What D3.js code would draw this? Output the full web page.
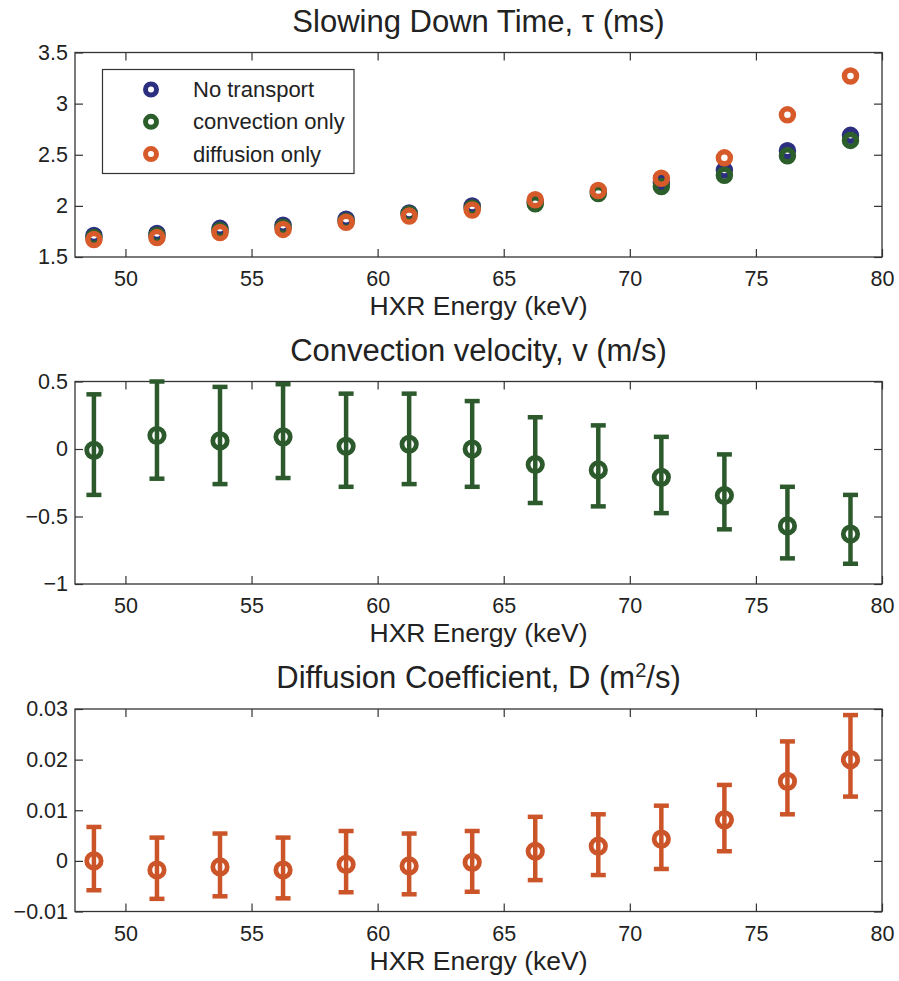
<!DOCTYPE html>
<html>
<head>
<meta charset="utf-8">
<script src="https://d3js.org/d3.v7.min.js"></script>
<style>
  body { margin: 0; background: #fff; }
  svg { display: block; font-family: "Liberation Sans", Arial, sans-serif; }
  text { fill: #222; }
</style>
</head>
<body>
<svg></svg>
<script>
// HXR energy bins (keV)
const energy = [48.75, 51.25, 53.75, 56.25, 58.75, 61.25, 63.75, 66.25, 68.75, 71.25, 73.75, 76.25, 78.75];

// slowing down time (ms)
const tauNone = [1.71, 1.73, 1.78, 1.81, 1.87, 1.93, 2.00, 2.04, 2.14, 2.23, 2.35, 2.54, 2.69];
const tauConv = [1.69, 1.71, 1.76, 1.79, 1.85, 1.92, 1.98, 2.02, 2.12, 2.19, 2.30, 2.49, 2.64];
const tauDiff = [1.67, 1.69, 1.74, 1.77, 1.84, 1.90, 1.96, 2.06, 2.15, 2.27, 2.47, 2.89, 3.27];
const seriesNames = ['No transport', 'convection only', 'diffusion only'];

// convection velocity (m/s) and error bar ends
const velocity = [-0.01, 0.10, 0.06, 0.09, 0.02, 0.035, 0.0, -0.115, -0.155, -0.21, -0.345, -0.57, -0.63];
const velLow = [-0.34, -0.22, -0.26, -0.215, -0.28, -0.26, -0.28, -0.40, -0.425, -0.475, -0.595, -0.81, -0.85];
const velHigh = [0.405, 0.50, 0.46, 0.48, 0.41, 0.41, 0.355, 0.235, 0.175, 0.09, -0.04, -0.28, -0.34];

// diffusion coefficient (m^2/s) and error bar ends
const diffCoef = [0.0000, -0.0018, -0.0012, -0.0018, -0.0007, -0.0010, -0.0003, 0.0019, 0.0029, 0.0043, 0.0081, 0.0157, 0.0200];
const diffLow = [-0.0058, -0.0075, -0.0070, -0.0074, -0.0062, -0.0066, -0.0061, -0.0038, -0.0028, -0.0016, 0.0019, 0.0092, 0.0127];
const diffHigh = [0.0067, 0.0046, 0.0054, 0.0046, 0.0059, 0.0054, 0.0059, 0.0087, 0.0092, 0.0109, 0.0150, 0.0236, 0.0288];

// tick values / labels
const xTicks = [50, 55, 60, 65, 70, 75, 80];
const tauTicks = [1.5, 2, 2.5, 3, 3.5];
const tauLabels = ['1.5', '2', '2.5', '3', '3.5'];
const velTicks = [-1, -0.5, 0, 0.5];
const velLabels = ['\u22121', '\u22120.5', '0', '0.5'];
const diffTicks = [-0.01, 0, 0.01, 0.02, 0.03];
const diffLabels = ['\u22120.01', '0', '0.01', '0.02', '0.03'];

const width = 899;
const height = 981;
const colors = ['#2c2f80', '#2b5e2b', '#d75a2b'];
const greenBar = '#2d5a2c';
const orangeBar = '#cc5429';

const svg = d3.select('svg')
  .attr('width', width)
  .attr('height', height);

svg.append('rect').attr('width', width).attr('height', height).attr('fill', '#fff');

const left = 75;
const right = 882;
const x = d3.scaleLinear().domain([48, 80]).range([left, right]);

function drawPanel(top, bottom, yDomain, ticks, labels, title) {
  const y = d3.scaleLinear().domain(yDomain).range([bottom, top]);
  const g = svg.append('g');
  const h = bottom - top;

  g.append('g')
    .attr('transform', `translate(0,${bottom})`)
    .call(d3.axisBottom(x).tickValues(xTicks).tickSize(-8).tickSizeOuter(0))
    .call(a => {
      a.select('.domain').remove();
      a.selectAll('text').attr('y', 29).attr('dy', null).style('font-size', '21.5px');
    });
  g.append('g')
    .attr('transform', `translate(0,${top})`)
    .call(d3.axisTop(x).tickValues(xTicks).tickSize(-8).tickSizeOuter(0).tickFormat(''))
    .call(a => a.select('.domain').remove());
  g.append('g')
    .attr('transform', `translate(${left},0)`)
    .call(d3.axisLeft(y).tickValues(ticks).tickSize(-8).tickPadding(7).tickSizeOuter(0)
      .tickFormat((d, i) => labels[i]))
    .call(a => {
      a.select('.domain').remove();
      a.selectAll('text').style('font-size', '21.5px');
    });
  g.append('g')
    .attr('transform', `translate(${right},0)`)
    .call(d3.axisRight(y).tickValues(ticks).tickSize(-8).tickSizeOuter(0).tickFormat(''))
    .call(a => a.select('.domain').remove());
  g.selectAll('.tick line').attr('stroke', '#333').attr('stroke-width', 1.2);

  g.append('rect')
    .attr('x', left).attr('y', top)
    .attr('width', right - left).attr('height', h)
    .attr('fill', 'none').attr('stroke', '#333').attr('stroke-width', 1.3);

  const t = g.append('text')
    .attr('x', (left + right) / 2).attr('y', top - 21)
    .attr('text-anchor', 'middle')
    .style('font-size', '31px');
  title(t);

  g.append('text')
    .attr('x', (left + right) / 2).attr('y', bottom + 58)
    .attr('text-anchor', 'middle')
    .style('font-size', '26.5px')
    .text('HXR Energy (keV)');

  return { g, y };
}

// panel 1: slowing down time
const p1 = drawPanel(52.5, 257, [1.5, 3.5], tauTicks, tauLabels,
  t => t.text('Slowing Down Time, \u03c4 (ms)'));

[tauNone, tauConv, tauDiff].forEach((vals, k) => {
  p1.g.append('g').selectAll('circle')
    .data(vals)
    .enter().append('circle')
    .attr('cx', (d, i) => x(energy[i]))
    .attr('cy', d => p1.y(d))
    .attr('r', 6)
    .attr('fill', 'none')
    .attr('stroke', colors[k])
    .attr('stroke-width', 5.5);
});

const legend = p1.g.append('g');
legend.append('rect')
  .attr('x', 102.5).attr('y', 69.5)
  .attr('width', 251.5).attr('height', 104)
  .attr('fill', '#fff').attr('stroke', '#333').attr('stroke-width', 1.2);
seriesNames.forEach((name, k) => {
  const ly = 89.5 + k * 32.3;
  legend.append('circle')
    .attr('cx', 151).attr('cy', ly).attr('r', 5.5)
    .attr('fill', 'none').attr('stroke', colors[k]).attr('stroke-width', 5);
  legend.append('text')
    .attr('x', 193).attr('y', ly + 7.5)
    .style('font-size', '22px')
    .text(name);
});

function drawErrorBars(panel, vals, lows, highs, color) {
  const bars = panel.g.append('g')
    .attr('stroke', color)
    .attr('fill', 'none')
    .attr('stroke-width', 4.5);
  vals.forEach((v, i) => {
    const cx = x(energy[i]);
    const y0 = panel.y(lows[i]);
    const y1 = panel.y(highs[i]);
    bars.append('line').attr('x1', cx).attr('x2', cx).attr('y1', y0).attr('y2', y1);
    bars.append('line').attr('x1', cx - 7.5).attr('x2', cx + 7.5).attr('y1', y0).attr('y2', y0);
    bars.append('line').attr('x1', cx - 7.5).attr('x2', cx + 7.5).attr('y1', y1).attr('y2', y1);
    bars.append('circle').attr('cx', cx).attr('cy', panel.y(v)).attr('r', 7.2).attr('stroke-width', 4.8);
  });
}

// panel 2: convection velocity
const p2 = drawPanel(381.5, 584, [-1, 0.5], velTicks, velLabels,
  t => t.text('Convection velocity, v (m/s)'));
drawErrorBars(p2, velocity, velLow, velHigh, greenBar);

// panel 3: diffusion coefficient
const p3 = drawPanel(709, 911.5, [-0.01, 0.03], diffTicks, diffLabels, t => {
  t.append('tspan').text('Diffusion Coefficient, D (m');
  t.append('tspan').attr('dy', -11).style('font-size', '20px').text('2');
  t.append('tspan').attr('dy', 11).text('/s)');
});
drawErrorBars(p3, diffCoef, diffLow, diffHigh, orangeBar);
</script>
</body>
</html>
